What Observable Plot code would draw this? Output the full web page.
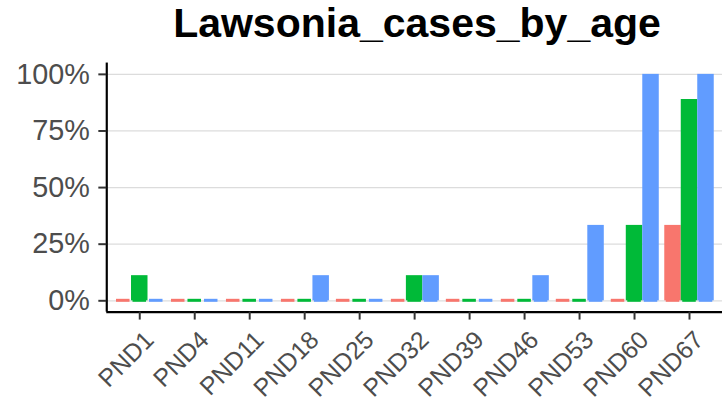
<!DOCTYPE html>
<html><head><meta charset="utf-8">
<script src="https://cdn.jsdelivr.net/npm/d3@7"></script>
<script src="https://cdn.jsdelivr.net/npm/@observablehq/plot@0.6"></script>
<style>
html,body{margin:0;padding:0;background:#fff;overflow:hidden;width:722px;height:402px;}
#title{position:absolute;left:0;top:0;width:834px;height:56px;line-height:56px;text-align:center;font:bold 41px "Liberation Sans",Arial,sans-serif;color:#000;white-space:nowrap;}
#chart{position:absolute;left:0;top:56px;}
</style></head><body>
<div id="title">Lawsonia_cases_by_age</div>
<div id="chart"></div>
<script>
const categories = ["PND1","PND4","PND11","PND18","PND25","PND32","PND39","PND46","PND53","PND60","PND67"];
const seriesNames = ["Group 1","Group 2","Group 3"];
const seriesColors = ["#F8766D","#00BA38","#619CFF"];
const redValues   = [0, 0, 0, 0, 0, 0, 0, 0, 0, 0, 0.333];
const greenValues = [0.111, 0, 0, 0, 0, 0.111, 0, 0, 0, 0.333, 0.889];
const blueValues  = [0, 0, 0, 0.111, 0, 0.111, 0, 0.111, 0.333, 1, 1];
const yTicks = [0, 0.25, 0.5, 0.75, 1];

const valuesBySeries = [redValues, greenValues, blueValues];
const dodge = 0.9 / seriesNames.length;
const rows = [];
categories.forEach((c, i) => valuesBySeries.forEach((vals, s) => rows.push({
  category: c, index: i, series: seriesNames[s], value: vals[i],
  x1: i - 0.45 + s * dodge, x2: i - 0.45 + (s + 1) * dodge
})));
const xTicks = d3.range(categories.length);

const chart = Plot.plot({
  width: 727, height: 346,
  marginLeft: 107, marginRight: 0, marginTop: 6.6, marginBottom: 88.6,
  x: {domain: [-0.6, categories.length - 0.4], axis: null},
  y: {domain: [-0.05, 1.05], axis: null},
  color: {domain: seriesNames, range: seriesColors},
  style: {fontFamily: '"Liberation Sans", Arial, sans-serif', background: "white"},
  marks: [
    Plot.gridY(yTicks, {stroke: "#dcdcdc", strokeOpacity: 1, strokeWidth: 1.3}),
    Plot.rect(rows, {x1: "x1", x2: "x2", y1: 0, y2: 0, fill: "series", insetTop: -1.5, insetBottom: -1.5, insetLeft: 1.5, insetRight: 1.5}),
    Plot.rect(rows, {x1: "x1", x2: "x2", y1: 0, y2: "value", fill: "series"}),
    Plot.ruleX([-0.6], {stroke: "black", strokeWidth: 2.2}),
    Plot.ruleY([-0.05], {stroke: "black", strokeWidth: 2.2}),
    Plot.axisY({ticks: yTicks, tickFormat: d => Math.round(d * 100) + "%", label: null, tickSize: 8, tickPadding: 9, fontSize: 29, stroke: "#333", strokeWidth: 2, fill: "#4d4d4d"}),
    Plot.axisX({ticks: xTicks, tickFormat: () => "", label: null, tickSize: 8, stroke: "#333", strokeWidth: 2}),
    Plot.axisX({ticks: xTicks, tickFormat: i => categories[i], label: null, tickRotate: -45, tickSize: 0, tickPadding: 12, fontSize: 25, dx: 10, dy: 12, fill: "#4d4d4d"})
  ]
});
document.getElementById("chart").appendChild(chart);
</script>
</body></html>
